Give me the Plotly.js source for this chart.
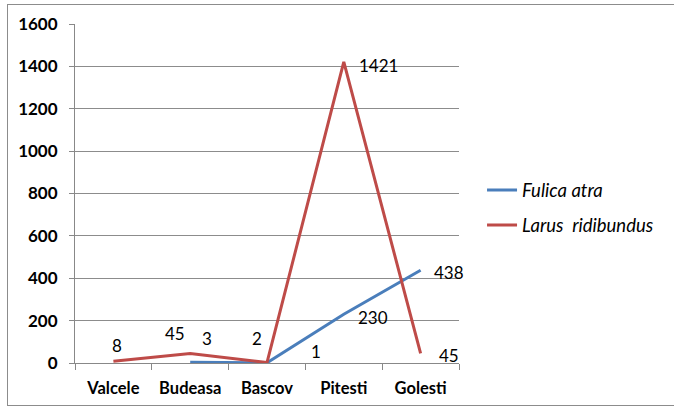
<!DOCTYPE html>
<html><head><meta charset="utf-8">
<script src="https://cdn.plot.ly/plotly-3.0.1.min.js"></script>
<style>
html,body{margin:0;padding:0;background:#fff;overflow:hidden;}
#frame{position:absolute;left:7px;top:4px;width:700px;height:402px;border:1px solid #8c8c8c;box-sizing:border-box;}
#chart{position:absolute;left:0;top:0;width:674px;height:411px;}
</style></head>
<body><div id="frame"></div><div id="chart"></div>
<script>
const categories = ["Valcele", "Budeasa", "Bascov", "Pitesti", "Golesti"];
const fulicaAtra = [null, 3, 1, 230, 438];
const larusRidibundus = [8, 45, 2, 1421, 45];
const fulicaLabels = ["", "3", "1", "230", "438"];
const larusLabels = ["8", "45", "2", "1421", "45"];

// label offsets (pixels) per point
const fulicaOff = [null, [17, 24], [49, 11], [29, -3], [28, -2]];
const larusOff = [[4, 16], [-15, 20], [-10, 24], [35, -4], [28, -2]];

const annotations = [];
function addLabels(vals, labels, offs) {
  vals.forEach((v, i) => {
    if (v === null || !labels[i]) return;
    annotations.push({
      x: categories[i], y: v, xref: 'x', yref: 'y', text: labels[i],
      showarrow: false, xshift: offs[i][0], yshift: offs[i][1],
      font: {family: 'Lato, "Open Sans", sans-serif', size: 17, color: '#000'}
    });
  });
}
addLabels(fulicaAtra, fulicaLabels, fulicaOff);
addLabels(larusRidibundus, larusLabels, larusOff);

const traces = [
  {x: categories, y: fulicaAtra, name: 'Fulica atra', type: 'scatter', mode: 'lines',
   line: {color: '#4a7ebb', width: 3}, legendgroup: 'a', connectgaps: false},
  {x: categories, y: larusRidibundus, name: 'Larus  ridibundus', type: 'scatter', mode: 'lines',
   line: {color: '#be4b48', width: 3}, legendgroup: 'b'}
];

const layout = {
  width: 674, height: 411,
  margin: {l: 75, r: 215, t: 24, b: 48},
  paper_bgcolor: 'rgba(0,0,0,0)', plot_bgcolor: 'rgba(0,0,0,0)',
  font: {family: 'Lato, "Open Sans", sans-serif', size: 14, color: '#000'},
  showlegend: true,
  legend: {x: 1.06, y: 0.565, xanchor: 'left', yanchor: 'top', traceorder: 'grouped', tracegroupgap: 8,
    font: {size: 18.5, style: 'italic'}, bgcolor: 'rgba(0,0,0,0)'},
  xaxis: {type: 'category', range: [-0.5, 4.5], tickson: 'boundaries', ticks: 'outside', ticklen: 6,
    tickcolor: '#888', showline: true, linecolor: '#888', linewidth: 1, showgrid: false, zeroline: false,
    ticklabelstandoff: 10, tickfont: {size: 16.5, weight: 'bold'}, fixedrange: true},
  yaxis: {range: [0, 1600], dtick: 200, showgrid: true, gridcolor: '#8c8c8c', gridwidth: 1,
    showline: true, linecolor: '#888', linewidth: 1, ticks: 'outside', ticklen: 5, tickcolor: '#888',
    ticklabelstandoff: 8, zeroline: false, tickfont: {size: 17, weight: 'bold'}, fixedrange: true},
  annotations: annotations
};
Plotly.newPlot('chart', traces, layout, {displayModeBar: false, staticPlot: true});
</script></body></html>
